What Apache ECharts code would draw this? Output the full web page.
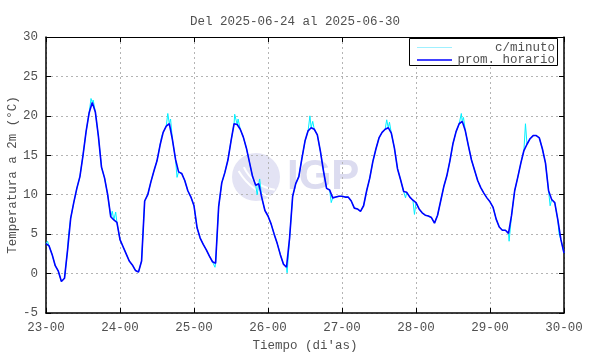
<!DOCTYPE html>
<html>
<head>
<meta charset="utf-8">
<script src="https://cdn.jsdelivr.net/npm/echarts@6/dist/echarts.min.js"></script>
<style>html,body{margin:0;padding:0;background:#fff}#c{width:590px;height:354px}</style>
</head>
<body>
<div id="c"></div>
<script>
const xTickLabels = ['23-00','24-00','25-00','26-00','27-00','28-00','29-00','30-00'];
const yTicks = [-5, 0, 5, 10, 15, 20, 25, 30];
// hourly means (prom. horario), one array per day, 24 values each
const day23 = [3.8,3.5,2.4,1.0,0.3,-1.0,-0.6,3.0,7.0,9.0,10.8,12.3,15.0,18.0,20.4,21.7,20.5,17.4,13.5,12.1,10.0,7.2,6.8,6.5];
const day24 = [4.3,3.4,2.5,1.6,1.1,0.4,0.2,1.6,9.2,10.0,11.6,13.0,14.3,16.3,17.9,18.7,19.0,17.0,14.5,12.9,12.7,11.8,10.5,9.7];
const day25 = [8.6,5.8,4.5,3.7,3.0,2.2,1.5,1.3,8.5,11.5,12.8,14.4,16.8,19.0,18.9,18.3,17.3,15.9,14.1,12.3,11.2,11.4,9.6,8.0];
const day26 = [7.3,6.3,5.0,3.8,2.4,1.2,0.8,4.5,9.8,11.4,12.3,14.6,16.8,18.1,18.5,18.3,17.6,15.5,13.0,10.8,10.6,9.6,9.7,9.8];
const day27 = [9.8,9.7,9.7,9.2,8.3,8.2,7.9,8.6,10.5,12.1,14.2,15.8,17.2,17.9,18.3,18.5,17.8,15.9,13.3,11.9,10.4,10.3,9.7,9.3];
const day28 = [9.0,8.2,7.7,7.4,7.3,7.1,6.4,7.4,9.2,11.0,12.4,14.3,16.5,18.0,19.0,19.3,18.1,16.2,14.4,13.1,11.8,10.9,10.2,9.6];
const day29 = [9.1,8.4,6.9,5.9,5.5,5.5,5.1,7.4,10.5,12.2,14.0,15.6,16.4,17.1,17.5,17.5,17.2,15.8,14.0,10.5,9.4,9.0,6.8,4.3];
const day30 = [2.6];
// per-minute excursions visible beside the hourly line: [day index, hour, value]
const minuteSpikes = [
  [0,0.5,4.1],[0,3.6,0.9],[0,7.3,4.8],[0,14.6,22.2],[0,15.3,22.0],[0,21.5,7.9],[0,22.6,7.8],
  [1,13.5,17.4],[1,15.5,20.3],[1,16.4,19.6],[1,18.5,12.2],
  [2,6.8,0.8],[2,13.2,20.2],[2,14.3,19.6],[2,20.5,10.0],[2,21.3,12.0],
  [3,6.2,0.1],[3,13.6,20.0],[3,14.5,19.3],[3,20.5,9.0],
  [4,14.5,19.5],[4,15.4,19.2],[4,20.6,9.6],[4,23.5,7.5],
  [5,14.7,20.3],[5,15.4,19.8],
  [6,6.2,4.1],[6,11.5,19.0],[6,19.5,8.6],[6,22.4,5.0]
];

const days = [day23, day24, day25, day26, day27, day28, day29];
const hourly = [];
days.forEach((arr, d) => arr.forEach((v, h) => hourly.push([d + h / 24, v])));
hourly.push([7, day30[0]]);
const minute = hourly.concat(minuteSpikes.map(s => [s[0] + s[1] / 24, s[2]])).sort((a, b) => a[0] - b[0]);

const FONT = 'Liberation Mono';
const TXT = '#505050';
const chart = echarts.init(document.getElementById('c'), null, {renderer: 'canvas'});
const gridLine = {show: true, lineStyle: {color: '#b4b4b4', type: [2, 3], width: 1}};
const tick = {show: true, inside: true, length: 5, lineStyle: {color: '#000', width: 1}};
chart.setOption({
  animation: false,
  backgroundColor: '#fff',
  title: {text: 'Del 2025-06-24 al 2025-06-30', left: 'center', top: 10,
    textStyle: {fontFamily: FONT, fontSize: 12.5, fontWeight: 'normal', color: TXT}},
  grid: {left: 46, right: 26, top: 37, bottom: 41, containLabel: false, outerBoundsMode: 'none'},
  xAxis: [{
    type: 'value', min: 0, max: 7, interval: 1, position: 'bottom',
    name: "Tiempo (di'as)", nameLocation: 'middle', nameGap: 26, nameMoveOverlap: false,
    nameTextStyle: {fontFamily: FONT, fontSize: 12.5, color: TXT},
    axisLine: {show: true, onZero: false, lineStyle: {color: '#000', width: 1.5}},
    axisTick: tick, splitLine: gridLine,
    axisLabel: {fontFamily: FONT, fontSize: 12.5, color: TXT, margin: 8,
      formatter: v => xTickLabels[Math.round(v)]}
  }, {
    type: 'value', min: 0, max: 7, interval: 1, position: 'top',
    axisLine: {show: true, onZero: false, lineStyle: {color: '#000', width: 1.2}},
    axisTick: tick, splitLine: {show: false}, axisLabel: {show: false}
  }],
  yAxis: [{
    type: 'value', min: yTicks[0], max: yTicks[yTicks.length - 1], interval: 5, position: 'left',
    name: 'Temperatura a 2m (°C)', nameLocation: 'middle', nameGap: 27, nameMoveOverlap: false,
    nameTextStyle: {fontFamily: FONT, fontSize: 12.5, color: TXT},
    axisLine: {show: true, onZero: false, lineStyle: {color: '#000', width: 1.5}},
    axisTick: tick, splitLine: gridLine,
    axisLabel: {fontFamily: FONT, fontSize: 12.5, color: TXT, margin: 8}
  }, {
    type: 'value', min: yTicks[0], max: yTicks[yTicks.length - 1], interval: 5, position: 'right',
    axisLine: {show: true, onZero: false, lineStyle: {color: '#000', width: 1.5}},
    axisTick: tick, splitLine: {show: false}, axisLabel: {show: false}
  }],
  graphic: [
    {type: 'circle', shape: {cx: 256, cy: 177, r: 24}, style: {fill: '#e3e3f4'}, z: -10, silent: true},
    {type: 'arc', shape: {cx: 280, cy: 150, r: 40, startAngle: 1.7, endAngle: 2.7}, style: {stroke: '#fff', lineWidth: 2, fill: null}, z: -9, silent: true},
    {type: 'arc', shape: {cx: 290, cy: 140, r: 60, startAngle: 1.8, endAngle: 2.6}, style: {stroke: '#fff', lineWidth: 2, fill: null}, z: -9, silent: true},
    {type: 'text', x: 287, y: 177, style: {text: 'IGP', fontFamily: 'Liberation Sans', fontWeight: 'bold', fontSize: 42, fill: '#dcdcf0', verticalAlign: 'middle'}, z: -10, silent: true},
    {type: 'rect', shape: {x: 409.5, y: 38.5, width: 148, height: 27}, style: {fill: '#fff', stroke: '#000', lineWidth: 1}, z: 100},
    {type: 'line', shape: {x1: 417, y1: 47.5, x2: 452, y2: 47.5}, style: {stroke: '#9ff0ff', lineWidth: 1}, z: 101},
    {type: 'line', shape: {x1: 417, y1: 60, x2: 452, y2: 60}, style: {stroke: '#0000ff', lineWidth: 1.5}, z: 101},
    {type: 'text', x: 555, y: 47.5, style: {text: 'c/minuto', fontFamily: FONT, fontSize: 12.5, fill: TXT, align: 'right', verticalAlign: 'middle'}, z: 101},
    {type: 'text', x: 555, y: 60, style: {text: 'prom. horario', fontFamily: FONT, fontSize: 12.5, fill: TXT, align: 'right', verticalAlign: 'middle'}, z: 101}
  ],
  series: [
    {name: 'c/minuto', type: 'line', data: minute, showSymbol: false, symbol: 'none',
      lineStyle: {color: '#00f0ff', width: 1}, z: 3},
    {name: 'prom. horario', type: 'line', data: hourly, showSymbol: false, symbol: 'none',
      lineStyle: {color: '#0000ff', width: 1.6}, z: 4}
  ]
});
</script>
</body>
</html>
